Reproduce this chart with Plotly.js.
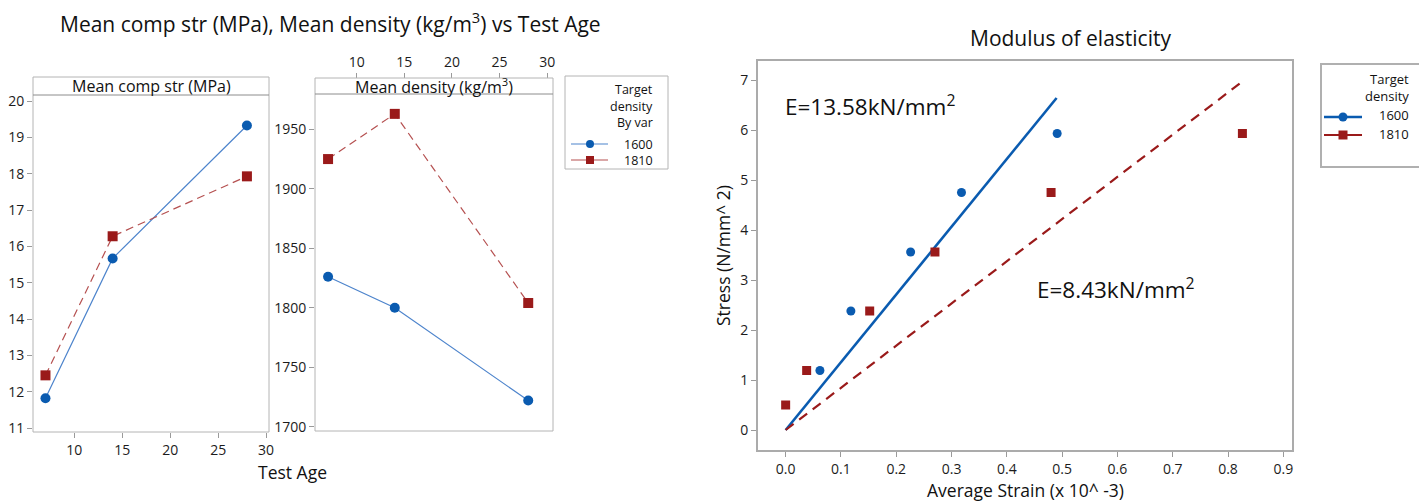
<!DOCTYPE html>
<html>
<head>
<meta charset="utf-8">
<script src="https://cdn.plot.ly/plotly-3.0.1.min.js"></script>
<style>html,body{margin:0;padding:0;background:#fff;}#chart{width:1419px;height:501px;}</style>
</head>
<body>
<div id="chart"></div>
<script>
// ---- data ----
const testAge = [7, 14, 28];
const compStr1600 = [11.82, 15.67, 19.33];
const compStr1810 = [12.45, 16.28, 17.93];
const density1600 = [1826, 1800, 1722];
const density1810 = [1925, 1963, 1804];

const strain1600 = [0.062, 0.118, 0.226, 0.318, 0.491];
const stress1600 = [1.19, 2.38, 3.56, 4.75, 5.93];
const strain1810 = [0.0, 0.038, 0.152, 0.270, 0.480, 0.826];
const stress1810 = [0.50, 1.19, 2.38, 3.56, 4.75, 5.93];
const fitStrain1600 = [0, 0.49];
const fitStress1600 = [0, 6.64];
const fitStrain1810 = [0, 0.826];
const fitStress1810 = [0, 6.97];

const groups = ['1600', '1810'];
const ageTicks = [10, 15, 20, 25, 30];
const strTicks = [11, 12, 13, 14, 15, 16, 17, 18, 19, 20];
const denTicks = [1700, 1750, 1800, 1850, 1900, 1950];
const strainTicks = [0, 0.1, 0.2, 0.3, 0.4, 0.5, 0.6, 0.7, 0.8, 0.9];
const stressTicks = [0, 1, 2, 3, 4, 5, 6, 7];

// ---- layout helpers ----
const W = 1419, H = 501;
const px = x => x / W;
const py = y => 1 - y / H;
const FONT = 'Open Sans, Noto Sans, sans-serif';
const BLUE = '#0a5bb0', RED = '#9a1a1a';
const BLUE_L = '#4d84cc', RED_L = '#b55050';
const TXT = '#111111';
const tickFont = {family: FONT, size: 14, color: '#1c1c1c'};

const traces = [
  {x: testAge, y: compStr1600, xaxis: 'x', yaxis: 'y', mode: 'lines+markers', name: groups[0],
   line: {color: BLUE_L, width: 1.2}, marker: {symbol: 'circle', size: 10, color: BLUE}},
  {x: testAge, y: compStr1810, xaxis: 'x', yaxis: 'y', mode: 'lines+markers', name: groups[1],
   line: {color: RED_L, width: 1.2, dash: '8px,5px'}, marker: {symbol: 'square', size: 10, color: RED}},
  {x: testAge, y: density1600, xaxis: 'x2', yaxis: 'y2', mode: 'lines+markers', name: groups[0],
   line: {color: BLUE_L, width: 1.2}, marker: {symbol: 'circle', size: 10, color: BLUE}},
  {x: testAge, y: density1810, xaxis: 'x2', yaxis: 'y2', mode: 'lines+markers', name: groups[1],
   line: {color: RED_L, width: 1.2, dash: '8px,5px'}, marker: {symbol: 'square', size: 10, color: RED}},
  {x: fitStrain1600, y: fitStress1600, xaxis: 'x3', yaxis: 'y3', mode: 'lines',
   line: {color: BLUE, width: 2.6}},
  {x: fitStrain1810, y: fitStress1810, xaxis: 'x3', yaxis: 'y3', mode: 'lines',
   line: {color: RED, width: 2.2, dash: '10px,7px'}},
  {x: strain1600, y: stress1600, xaxis: 'x3', yaxis: 'y3', mode: 'markers',
   marker: {symbol: 'circle', size: 9, color: BLUE}},
  {x: strain1810, y: stress1810, xaxis: 'x3', yaxis: 'y3', mode: 'markers',
   marker: {symbol: 'square', size: 9, color: RED}}
];

const axBase = {showgrid: false, zeroline: false, showline: false, ticks: 'outside', ticklen: 5,
  tickcolor: '#9a9a9a', tickwidth: 1, tickfont: tickFont, fixedrange: true};

const shapes = [];
const annotations = [];
function rect(x0, y0, x1, y1, color, width) {
  shapes.push({type: 'rect', xref: 'paper', yref: 'paper', x0: px(x0), x1: px(x1), y0: py(y0), y1: py(y1),
    line: {color: color, width: width}, fillcolor: 'rgba(0,0,0,0)', layer: 'above'});
}
function hline(x0, x1, y, color, width, dash) {
  shapes.push({type: 'line', xref: 'paper', yref: 'paper', x0: px(x0), x1: px(x1), y0: py(y), y1: py(y),
    line: {color: color, width: width, dash: dash || 'solid'}, layer: 'above'});
}
function mark(type, cx, cy, r, color) {
  shapes.push({type: type, xref: 'paper', yref: 'paper', xsizemode: 'pixel', ysizemode: 'pixel',
    xanchor: px(cx), yanchor: py(cy), x0: -r, x1: r, y0: -r, y1: r,
    line: {color: color, width: 0}, fillcolor: color, layer: 'above'});
}
function text(t, x, y, size, opts) {
  annotations.push(Object.assign({text: t, xref: 'paper', yref: 'paper', x: px(x), y: py(y),
    showarrow: false, xanchor: 'center', yanchor: 'middle',
    font: {family: FONT, size: size, color: TXT}}, opts || {}));
}

// panel boxes and headers
rect(33, 77, 269, 432, '#b4b4b4', 1);
hline(33, 269, 95, '#8c8c8c', 1);
rect(315, 78, 553, 431, '#b4b4b4', 1);
hline(315, 553, 94, '#8c8c8c', 1);
text('Mean comp str (MPa)', 151, 86, 16);
text('Mean density (kg/m<sup>3</sup>)', 434, 86, 16);

// legend 1
rect(565, 76, 668, 169, '#b4b4b4', 1);
text('Target', 655, 90, 12.5, {xanchor: 'right'});
text('density', 655, 106, 12.5, {xanchor: 'right'});
text('By var', 655, 122, 12.5, {xanchor: 'right'});
text(groups[0], 655, 144, 12.5, {xanchor: 'right'});
text(groups[1], 655, 160, 12.5, {xanchor: 'right'});
hline(571, 608, 144, BLUE_L, 1.2);
mark('circle', 590, 144, 4, BLUE);
hline(571, 608, 160, RED_L, 1.2);
mark('rect', 590, 160, 4, RED);

// legend 2
rect(1321, 64, 1426, 167, '#b0b0b0', 2);
text('Target', 1411, 79, 13, {xanchor: 'right'});
text('density', 1411, 96, 13, {xanchor: 'right'});
text(groups[0], 1411, 115, 13, {xanchor: 'right'});
text(groups[1], 1411, 134, 13, {xanchor: 'right'});
hline(1324, 1362, 117, BLUE, 2.6);
mark('circle', 1343, 117, 4.5, BLUE);
hline(1324, 1362, 135, RED, 2.2);
mark('rect', 1343, 135, 4.5, RED);

// titles
text('Mean comp str (MPa), Mean density (kg/m<sup>3</sup>) vs Test Age', 330, 22, 21);
text('Modulus of elasticity', 1070, 38, 21);
text('Test Age', 292, 472, 17.5);
text('Stress (N/mm^ 2)', 723, 256, 17.5, {textangle: -90});
text('Average Strain (x 10^ -3)', 1025, 490, 17.5);
text('E=13.58kN/mm<sup>2</sup>', 783, 105, 22.5, {xanchor: 'left'});
text('E=8.43kN/mm<sup>2</sup>', 1035, 288, 22.5, {xanchor: 'left'});

const layout = {
  width: W, height: H,
  margin: {l: 0, r: 0, t: 0, b: 0, pad: 0},
  paper_bgcolor: '#fff', plot_bgcolor: '#fff',
  showlegend: false,
  font: {family: FONT, color: TXT},
  xaxis: Object.assign({}, axBase, {domain: [px(33), px(269)], range: [5.7, 30.3], tickvals: ageTicks, anchor: 'y'}),
  yaxis: Object.assign({}, axBase, {domain: [py(432), py(95)], range: [10.89, 20.17], tickvals: strTicks, anchor: 'x'}),
  xaxis2: Object.assign({}, axBase, {domain: [px(315), px(553)], range: [5.63, 30.6], tickvals: ageTicks,
    anchor: 'free', position: py(78), side: 'top'}),
  yaxis2: Object.assign({}, axBase, {domain: [py(431), py(94)], range: [1696.4, 1979.7], tickvals: denTicks, anchor: 'x2'}),
  xaxis3: Object.assign({}, axBase, {domain: [px(758), px(1292)], range: [-0.05, 0.9157], tickvals: strainTicks,
    tickformat: '.1f', anchor: 'y3', showline: true, mirror: true, linecolor: '#ababab', linewidth: 2}),
  yaxis3: Object.assign({}, axBase, {domain: [py(450), py(61)], range: [-0.4, 7.38], tickvals: stressTicks,
    anchor: 'x3', showline: true, mirror: true, linecolor: '#ababab', linewidth: 2}),
  shapes: shapes,
  annotations: annotations
};

Plotly.newPlot('chart', traces, layout, {displayModeBar: false, staticPlot: true});
</script>
</body>
</html>
